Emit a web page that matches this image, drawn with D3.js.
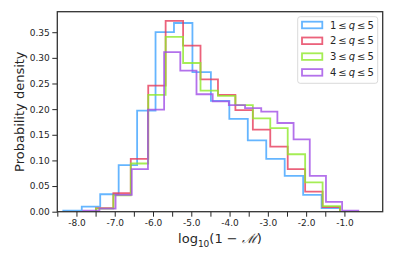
<!DOCTYPE html>
<html>
<head>
<meta charset="utf-8">
<script src="https://cdn.jsdelivr.net/npm/d3@7"></script>
<style>
  body { margin: 0; background: #fff; }
  svg { display: block; font-family: "DejaVu Sans", sans-serif; }
</style>
</head>
<body>
<svg id="chart"></svg>
<script>
// Bin edges (log10(1 - M)), one list per sample
const edgesAll = [-8.343, -7.861, -7.379, -6.897, -6.415, -5.934, -5.452, -4.970,
  -4.488, -4.006, -3.524, -3.042, -2.560, -2.078, -1.596, -1.115];
const edgesQ2 = [-7.492, -7.036, -6.581, -6.125, -5.670, -5.214, -4.759, -4.303,
  -3.848, -3.392, -2.937, -2.481, -2.026, -1.570, -1.115];
const edgesQ3 = edgesQ2;
const edgesQ4 = [-7.823, -7.400, -6.978, -6.555, -6.132, -5.710, -5.287, -4.864,
  -4.441, -4.019, -3.596, -3.173, -2.751, -2.328, -1.905, -1.482, -1.060, -0.637];

// Probability density per bin
const densQ1 = [0.002, 0.010, 0.034, 0.091, 0.197, 0.350, 0.368, 0.272,
  0.216, 0.181, 0.139, 0.103, 0.070, 0.033, 0.007];
const densQ2 = [0.007, 0.036, 0.103, 0.246, 0.372, 0.324, 0.258, 0.228,
  0.198, 0.160, 0.127, 0.083, 0.039, 0.009];
const densQ3 = [0.006, 0.032, 0.094, 0.228, 0.341, 0.290, 0.236, 0.226,
  0.208, 0.182, 0.163, 0.112, 0.057, 0.011];
const densQ4 = [0.002, 0.006, 0.033, 0.083, 0.199, 0.311, 0.275, 0.229, 0.215,
  0.208, 0.202, 0.195, 0.173, 0.141, 0.070, 0.019, 0.002];

const seriesLabels = ["1", "2", "3", "4"];
const seriesColors = ["#3fa2ff", "#e63b5a", "#8fe82a", "#a04ee6"];

const xTickValues = [-8.5, -8, -7.5, -7, -6.5, -6, -5.5, -5, -4.5, -4,
  -3.5, -3, -2.5, -2, -1.5, -1];
const xTickLabels = ["", "-8.0", "", "-7.0", "", "-6.0", "", "-5.0", "", "-4.0",
  "", "-3.0", "", "-2.0", "", "-1.0"];
const yTickValues = [0, 0.05, 0.10, 0.15, 0.20, 0.25, 0.30, 0.35];

const series = [
  { edges: edgesAll, dens: densQ1 },
  { edges: edgesQ2, dens: densQ2 },
  { edges: edgesQ3, dens: densQ3 },
  { edges: edgesQ4, dens: densQ4 }
];

const W = 395, H = 263;
const margin = { top: 11.7, right: 12.3, bottom: 51.3, left: 57.3 };
const width = W - margin.left - margin.right;
const height = H - margin.top - margin.bottom;

const svg = d3.select("#chart").attr("width", W).attr("height", H);
const g = svg.append("g").attr("transform", `translate(${margin.left},${margin.top})`);

const x = d3.scaleLinear().domain([-8.5, 0]).range([0, width]);
const y = d3.scaleLinear().domain([0, 0.39]).range([height, 0]);

// step outlines, like histtype='step'
const line = d3.line().x(d => x(d[0])).y(d => y(d[1]));
series.forEach((s, i) => {
  const pts = [[s.edges[0], 0]];
  s.dens.forEach((h, j) => {
    pts.push([s.edges[j], h]);
    pts.push([s.edges[j + 1], h]);
  });
  pts.push([s.edges[s.edges.length - 1], 0]);
  g.append("path")
    .datum(pts)
    .attr("d", line)
    .attr("fill", "none")
    .attr("stroke", seriesColors[i])
    .attr("stroke-opacity", 0.8)
    .attr("stroke-width", 1.8);
});

// axes
const xAxis = g.append("g")
  .attr("transform", `translate(0,${height})`)
  .call(d3.axisBottom(x).tickValues(xTickValues)
    .tickFormat((d, i) => xTickLabels[i]).tickSize(5).tickPadding(3));
const yAxis = g.append("g")
  .call(d3.axisLeft(y).tickValues(yTickValues)
    .tickFormat(d3.format(".2f")).tickSize(5).tickPadding(2.5));

[xAxis, yAxis].forEach(a => {
  a.select(".domain").remove();
  a.selectAll(".tick line").attr("stroke", "#262626").attr("stroke-width", 1);
  a.selectAll(".tick text").attr("fill", "#262626")
    .style("font-size", "9px").style("font-family", "DejaVu Sans");
});

// frame
g.append("rect")
  .attr("width", width).attr("height", height)
  .attr("fill", "none").attr("stroke", "#333").attr("stroke-width", 1.3);

// axis labels
svg.append("text")
  .attr("transform", `translate(24,${margin.top + height / 2}) rotate(-90)`)
  .attr("text-anchor", "middle")
  .attr("fill", "#262626")
  .style("font-size", "13px")
  .text("Probability density");

const xl = svg.append("text")
  .attr("x", margin.left + width / 2).attr("y", 243.3)
  .attr("text-anchor", "middle")
  .attr("fill", "#262626")
  .style("font-size", "13px");
xl.append("tspan").text("log");
xl.append("tspan").attr("dy", 3.5).style("font-size", "9px").text("10");
xl.append("tspan").attr("dy", -3.5).text("(1 \u2212 ");
xl.append("tspan").style("font-family", "DejaVu Serif").style("font-style", "italic").text("\u2133");
xl.append("tspan").text(")");

// legend
const lg = svg.append("g").attr("transform", "translate(297.7,16.7)");
lg.append("rect")
  .attr("width", 80).attr("height", 66.6).attr("rx", 2.5)
  .attr("fill", "#fff").attr("fill-opacity", 0.8)
  .attr("stroke", "#d0d0d0").attr("stroke-width", 0.8);
seriesLabels.forEach((lab, i) => {
  const cy = 8.3 + i * 15.8;
  lg.append("rect")
    .attr("x", 4.3).attr("y", cy - 3.3).attr("width", 20.3).attr("height", 6.6)
    .attr("fill", "none").attr("stroke", seriesColors[i])
    .attr("stroke-opacity", 0.8).attr("stroke-width", 1.8);
  const t = lg.append("text")
    .attr("x", 32.3).attr("y", cy + 3.6)
    .attr("fill", "#262626")
    .style("font-size", "10px");
  t.append("tspan").text(lab + "\u2009\u2264\u2009");
  t.append("tspan").style("font-style", "italic").text("q");
  t.append("tspan").text("\u2009\u2264\u20095");
});
</script>
</body>
</html>
